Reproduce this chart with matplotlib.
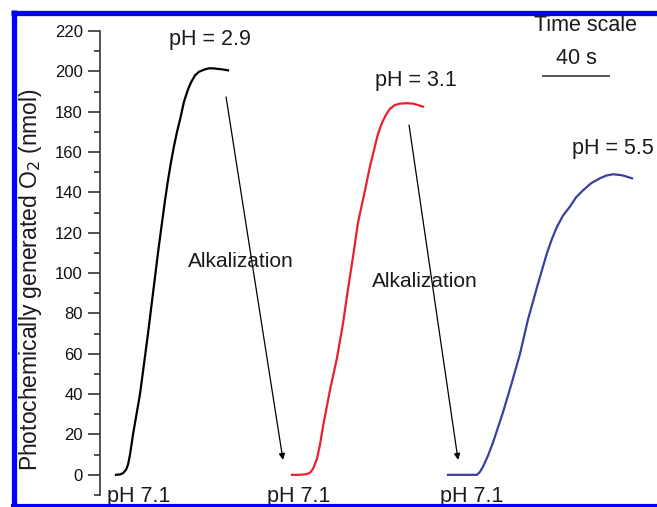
import numpy as np
import matplotlib
matplotlib.use("Agg")
import matplotlib.pyplot as plt
from matplotlib.lines import Line2D
from matplotlib.ticker import MultipleLocator

plt.rcParams['font.family'] = ['Liberation Sans', 'DejaVu Sans']

# O2 traces: time (s) and photochemically generated O2 (nmol)
t_ph29 = [9.70, 12.12, 13.94, 15.76, 16.97, 18.18, 20.00, 22.12, 24.24, 26.67,
          29.09, 31.21, 33.33, 35.45, 37.58, 39.39, 41.21, 43.03, 44.85, 46.67,
          48.48, 50.91, 53.33, 55.15, 57.58, 60.00, 63.64, 66.06, 68.48, 71.52,
          73.94, 77.58]
o2_ph29 = [0, 0.2, 0.8, 2.5, 5, 10, 20, 30, 40, 55,
           70, 84, 98, 112, 125, 136, 146, 155, 163, 170,
           176, 185, 191, 194.5, 198, 199.8, 201, 201.5, 201.5, 201.2,
           201, 200.5]

t_ph31 = [116.36, 121.21, 124.85, 127.27, 129.09, 131.52, 133.33, 135.15, 137.27, 139.39,
          141.52, 143.64, 145.45, 147.27, 150.30, 153.33, 156.36, 158.48, 160.61, 163.64,
          166.67, 168.48, 170.91, 173.33, 175.76, 178.79, 181.82, 186.06, 189.70, 192.73,
          195.76]
o2_ph31 = [0, 0, 0.3, 1, 3, 8, 15, 24, 33, 42,
           50, 58, 66.5, 75, 92, 108, 125, 133, 141, 153,
           163, 169, 174.5, 178.5, 181.5, 183.3, 184, 184.2, 184, 183.3,
           182.5]

t_ph55 = [210.91, 228.48, 230.30, 232.12, 235.15, 238.18, 241.21, 244.24, 246.97, 249.70,
          252.12, 254.55, 256.97, 259.39, 262.12, 264.85, 267.88, 270.91, 273.94, 276.97,
          280.61, 284.85, 288.48, 292.73, 297.58, 303.03, 306.67, 310.91, 316.36, 322.42]
o2_ph55 = [0, 0, 1.5, 4, 9.5, 16, 23.5, 31, 38.5, 46,
           53, 60, 68.5, 77, 85, 93, 101.5, 110, 117, 123,
           128.5, 133, 137.5, 141, 144.5, 147, 148.3, 149, 148.5, 147]

peak_labels = ['pH = 2.9', 'pH = 3.1', 'pH = 5.5']
start_label = 'pH 7.1'
scale_seconds = 40

txt = '#1a1a1a'

fig = plt.figure(figsize=(6.57, 5.07), dpi=100)
ax = fig.add_axes([100 / 657, 12 / 507, 557 / 657, 464 / 507])

ax.plot(t_ph29, o2_ph29, color='black', lw=1.6)
ax.plot(t_ph31, o2_ph31, color='#e8202f', lw=1.6)
ax.plot(t_ph55, o2_ph55, color='#3a3fa0', lw=1.6)

ax.set_xlim(0, 557 / 1.65)
ax.set_ylim(-10, 220)

for s in ['top', 'right', 'bottom']:
    ax.spines[s].set_visible(False)
ax.spines['left'].set_color('#333333')
ax.spines['left'].set_linewidth(1.2)
ax.set_xticks([])
ax.yaxis.set_major_locator(MultipleLocator(20))
ax.yaxis.set_minor_locator(MultipleLocator(10))
ax.set_yticks(np.arange(0, 221, 20))
ax.tick_params(axis='y', which='major', length=9, width=1.2, pad=3.5,
               labelsize=12, colors='#333333', labelcolor='#111111')
ax.tick_params(axis='y', which='minor', length=4, width=1.2, colors='#333333')

ax.set_ylabel('Photochemically generated O$_2$ (nmol)', fontsize=16.5, color=txt)
ax.yaxis.set_label_coords(-56 / 557, (495 - 280) / 464)

# peak pH labels
ax.text(66.7, 215.6, peak_labels[0], fontsize=15.5, color=txt, ha='center', va='center')
ax.text(191.5, 195.7, peak_labels[1], fontsize=15.5, color=txt, ha='center', va='center')
ax.text(286.0, 162.0, peak_labels[2], fontsize=15.5, color=txt, ha='left', va='center',
        clip_on=False)

# starting pH labels, partly hidden behind the frame
for x0 in [4.2, 101.2, 206.1]:
    ax.text(x0, -13.6, start_label, fontsize=15.5, color=txt, ha='left', va='baseline',
            clip_on=False)

# alkalization arrows
arrow = dict(arrowstyle='-|>', color='black', lw=0.9, mutation_scale=9,
             shrinkA=0, shrinkB=0)
ax.annotate('', xy=(110.9, 7.4), xytext=(76.4, 187.3), arrowprops=arrow)
ax.annotate('', xy=(217.0, 7.4), xytext=(187.3, 173.4), arrowprops=arrow)
ax.text(53.3, 105.5, 'Alkalization', fontsize=15, color=txt, ha='left', va='center')
ax.text(164.8, 95.6, 'Alkalization', fontsize=15, color=txt, ha='left', va='center')

# time scale bar
ax.text(294.5, 222.5, 'Time scale', fontsize=15.5, color=txt, ha='center', va='center',
        clip_on=False)
ax.text(288.5, 206.6, f'{scale_seconds} s', fontsize=15.5, color=txt,
        ha='center', va='center')
ax.plot([268.5, 268.5 + scale_seconds], [197.7, 197.7], color='#555555', lw=1.4)

# blue frame
blue = (0, 0, 1)
fig.add_artist(Line2D([13.5 / 657, 13.5 / 657], [0, (507 - 10) / 507],
                      color=blue, lw=3.8, solid_capstyle='butt'))
fig.add_artist(Line2D([11 / 657, 1], [(507 - 12.5) / 507] * 2,
                      color=blue, lw=3.8, solid_capstyle='butt'))
fig.add_artist(Line2D([11 / 657, 1], [1.5 / 507] * 2,
                      color=blue, lw=3.0, solid_capstyle='butt'))

fig.savefig('out.png', dpi=100)
